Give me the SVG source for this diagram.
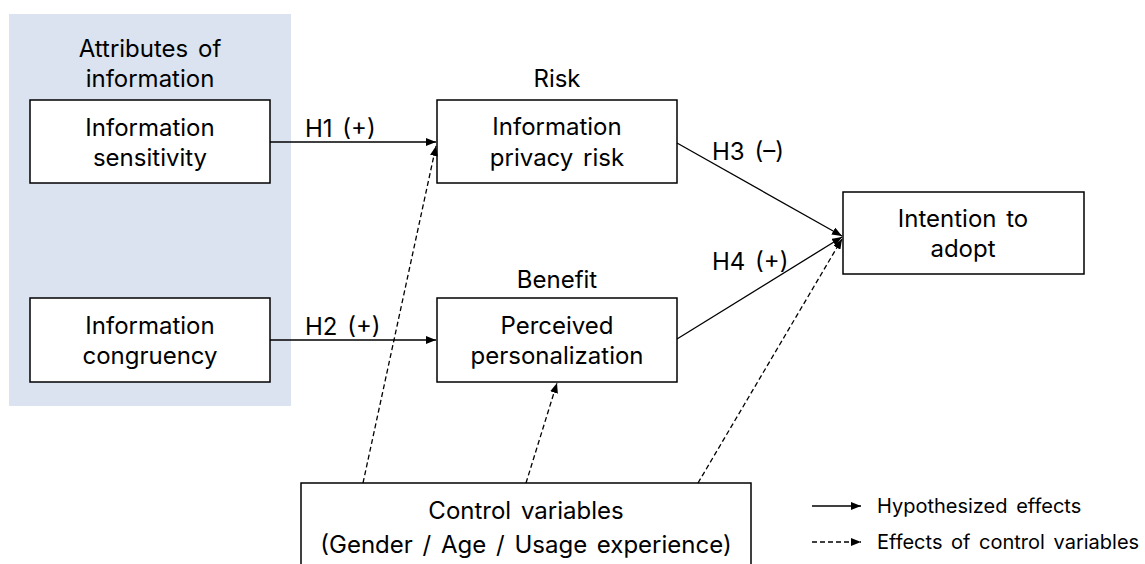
<svg xmlns="http://www.w3.org/2000/svg" width="1145" height="564" viewBox="0 0 1145 564">
<defs>
<style>
text{font-family:Inter,"Noto Sans",sans-serif;font-size:24px;fill:#000;text-anchor:middle;word-spacing:3px}
.lg{font-size:20px;text-anchor:start}
.lb{text-anchor:start}
.box{fill:#fff;stroke:#000;stroke-width:1.5}
.c{fill:none;stroke:#000;stroke-width:1.3}
.d{stroke-dasharray:5 3}
</style>
<marker id="ah" viewBox="0 0 10 8" refX="10" refY="4" markerWidth="10" markerHeight="8" markerUnits="userSpaceOnUse" orient="auto">
<path d="M0,0 L10,4 L0,8 z" fill="#000"/>
</marker>
</defs>
<rect width="1145" height="564" fill="#fff"/>
<g id="panel">
<rect x="9" y="14" width="282" height="392" fill="#dae3ef"/>
<text x="150" y="57">Attributes of</text>
<text x="150" y="87">information</text>
</g>
<g id="n-sensitivity">
<rect class="box" x="30" y="100" width="240" height="83"/>
<text x="150" y="136">Information</text>
<text x="150" y="166">sensitivity</text>
</g>
<g id="n-congruency">
<rect class="box" x="30" y="298" width="240" height="84"/>
<text x="150" y="334">Information</text>
<text x="150" y="364">congruency</text>
</g>
<g id="n-risk">
<text x="557" y="87">Risk</text>
<rect class="box" x="437" y="100" width="240" height="83"/>
<text x="557" y="135">Information</text>
<text x="557" y="166">privacy risk</text>
</g>
<g id="n-personalization">
<text x="557" y="288">Benefit</text>
<rect class="box" x="437" y="298" width="240" height="84"/>
<text x="557" y="334">Perceived</text>
<text x="557" y="364">personalization</text>
</g>
<g id="n-intention">
<rect class="box" x="843" y="192" width="241" height="82"/>
<text x="963" y="227">Intention to</text>
<text x="963" y="257">adopt</text>
</g>
<g id="n-control">
<rect class="box" x="301" y="483" width="450" height="100"/>
<text x="526" y="519">Control variables</text>
<text x="526" y="553">(Gender / Age / Usage experience)</text>
</g>
<g id="connectors">
<line class="c" x1="270" y1="142" x2="436" y2="142" marker-end="url(#ah)"/>
<line class="c" x1="270" y1="340" x2="436" y2="340" marker-end="url(#ah)"/>
<line class="c" x1="677" y1="143" x2="842" y2="236" marker-end="url(#ah)"/>
<line class="c" x1="677" y1="339" x2="842" y2="237" marker-end="url(#ah)"/>
<line class="c d" x1="363" y1="483" x2="436" y2="146" marker-end="url(#ah)"/>
<line class="c d" x1="526" y1="483" x2="557" y2="383" marker-end="url(#ah)"/>
<line class="c d" x1="698" y1="483" x2="842" y2="239" marker-end="url(#ah)"/>
<text class="lb" x="305" y="137">H1 (+)</text>
<text class="lb" x="305" y="335">H2 (+)</text>
<text class="lb" x="712" y="160">H3 (–)</text>
<text class="lb" x="712" y="270">H4 (+)</text>
</g>
<g id="legend">
<line class="c" x1="812" y1="506" x2="861" y2="506" marker-end="url(#ah)"/>
<line class="c d" x1="812" y1="542" x2="861" y2="542" marker-end="url(#ah)"/>
<text class="lg" x="877" y="513">Hypothesized effects</text>
<text class="lg" x="877" y="549">Effects of control variables</text>
</g>
</svg>
